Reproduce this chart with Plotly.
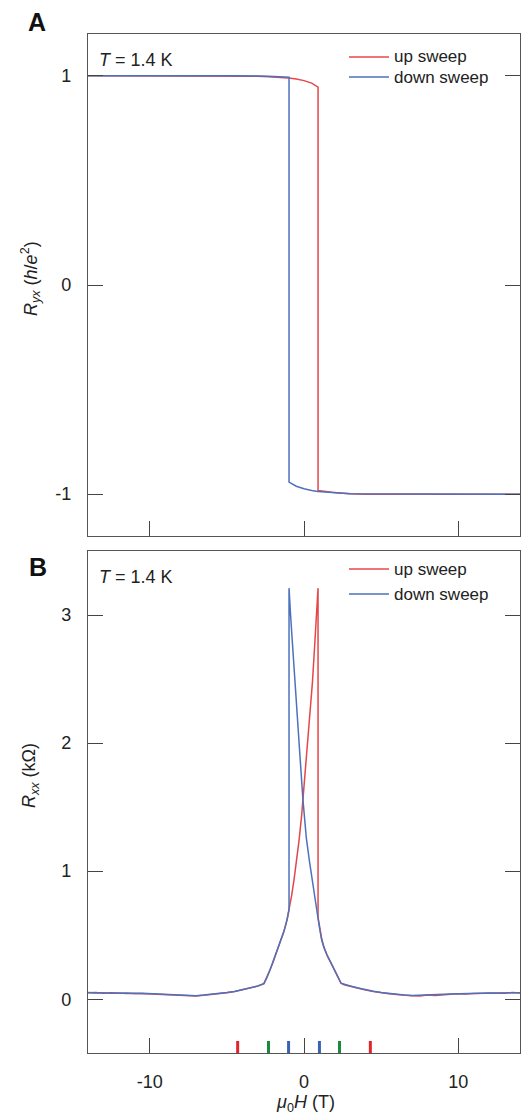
import plotly.graph_objects as go

# ---------------- data ----------------
# Panel A: Hall resistance R_yx (h/e^2)
field_up_A = [-14, -6, -4.5, -3, -2.3, -1.5, -1.0, -0.5, 0, 0.5, 0.91, 0.91, 1.3, 1.8, 2.3, 3.0, 4, 14]
ryx_up = [1.0, 1.0, 0.999, 0.998, 0.996, 0.993, 0.990, 0.985, 0.977, 0.965, 0.946,
          -0.982, -0.987, -0.991, -0.994, -0.998, -1.0, -1.0]
field_down_A = [14, 4, 3, 2.3, 1.5, 0.9, 0.5, 0, -0.5, -0.97, -0.97, -1.5, -2.3, -3, -4.5, -14]
ryx_down = [-1.0, -1.0, -0.998, -0.995, -0.991, -0.987, -0.982, -0.974, -0.962, -0.942,
            0.993, 0.996, 0.998, 0.999, 1.0, 1.0]

# Panel B: longitudinal resistance R_xx (kOhm)
field_up_B = [-14, -13.5, -13, -12.5, -12, -11.5, -11, -10.5, -10, -9.5, -9, -8.5, -8, -7.5, -7,
              -6.5, -6, -5.5, -5, -4.5, -4, -3.5, -3, -2.6, -2.4, -2.2, -2.0, -1.88, -1.7, -1.5,
              -1.3, -1.1, -0.95, -0.8, -0.65, -0.5, -0.32, -0.15, -0.07, 0.1, 0.25, 0.39, 0.55,
              0.7, 0.82, 0.91, 0.91, 1.0, 1.15, 1.3, 1.5, 1.8, 2.0, 2.2, 2.4, 2.6, 3, 3.5, 4,
              4.5, 5, 5.5, 6, 6.5, 7, 7.5, 8, 8.5, 9, 9.5, 10, 10.5, 11, 11.5, 12, 12.5, 13,
              13.5, 14]
rxx_up = [0.052, 0.048, 0.051, 0.047, 0.049, 0.045, 0.047, 0.044, 0.046, 0.041, 0.040, 0.036,
          0.033, 0.027, 0.026, 0.031, 0.036, 0.042, 0.050, 0.060, 0.072, 0.086, 0.102, 0.122,
          0.170, 0.230, 0.290, 0.330, 0.390, 0.460, 0.530, 0.620, 0.710, 0.810, 0.930, 1.060,
          1.240, 1.440, 1.560, 1.760, 1.970, 2.180, 2.480, 2.780, 3.020, 3.210, 0.640, 0.570,
          0.470, 0.405, 0.340, 0.270, 0.220, 0.170, 0.125, 0.113, 0.100, 0.085, 0.072, 0.061,
          0.051, 0.043, 0.037, 0.030, 0.027, 0.026, 0.032, 0.029, 0.036, 0.038, 0.042, 0.040,
          0.045, 0.047, 0.046, 0.050, 0.048, 0.051, 0.050]
field_down_B = [14, 13.5, 13, 12.5, 12, 11.5, 11, 10.5, 10, 9.5, 9, 8.5, 8, 7.5, 7, 6.5, 6,
                5.5, 5, 4.5, 4, 3.5, 3, 2.6, 2.4, 2.2, 2.0, 1.8, 1.5, 1.3, 1.15, 1.0, 0.91,
                0.75, 0.54, 0.35, 0.15, -0.07, -0.25, -0.43, -0.6, -0.75, -0.88, -0.97, -0.97,
                -1.1, -1.3, -1.5, -1.7, -1.88, -2.0, -2.2, -2.4, -2.6, -3, -3.5, -4, -4.5, -5,
                -5.5, -6, -6.5, -7, -7.5, -8, -8.5, -9, -9.5, -10, -10.5, -11, -11.5, -12,
                -12.5, -13, -13.5, -14]
rxx_down = [0.048, 0.052, 0.047, 0.050, 0.048, 0.046, 0.046, 0.042, 0.043, 0.040, 0.038, 0.033,
            0.030, 0.028, 0.029, 0.032, 0.038, 0.044, 0.052, 0.062, 0.073, 0.087, 0.103, 0.115,
            0.125, 0.175, 0.220, 0.270, 0.345, 0.400, 0.460, 0.560, 0.630, 0.760, 0.930, 1.080,
            1.260, 1.560, 1.880, 2.180, 2.500, 2.780, 3.020, 3.210, 0.700, 0.620, 0.530, 0.460,
            0.390, 0.330, 0.290, 0.230, 0.170, 0.122, 0.103, 0.087, 0.073, 0.061, 0.052, 0.044,
            0.037, 0.032, 0.027, 0.030, 0.030, 0.035, 0.038, 0.043, 0.042, 0.046, 0.044, 0.048,
            0.046, 0.050, 0.047, 0.052, 0.050]

# coloured field markers along the bottom of panel B
marker_fields = [-4.3, -2.3, -1.0, 1.0, 2.3, 4.3]
marker_colors = ["#e0242b", "#1c8a3c", "#3a62b4", "#3a62b4", "#1c8a3c", "#e0242b"]

x_ticks = [-10, 0, 10]
x_ticktext = ["-10", "0", "10"]
ticks_A = [-1, 0, 1]
ticktext_A = ["-1", "0", "1"]
ticks_B = [0, 1, 2, 3]

RED = "#e4474a"
BLUE = "#4d72bd"
FONT = "Liberation Sans, Arial, sans-serif"

# ---------------- layout helpers ----------------
W, H = 531, 1115
ML, MR, MT, MB = 88, 11, 34, 62
PW, PH = W - ML - MR, H - MT - MB


def fx(px):
    return (px - ML) / PW


def fy(py):
    return (H - MB - py) / PH


fig = go.Figure()
fig.add_trace(go.Scatter(x=field_up_A, y=ryx_up, mode="lines", line=dict(color=RED, width=1.5),
                         xaxis="x", yaxis="y", showlegend=False))
fig.add_trace(go.Scatter(x=field_down_A, y=ryx_down, mode="lines", line=dict(color=BLUE, width=1.5),
                         xaxis="x", yaxis="y", showlegend=False))
fig.add_trace(go.Scatter(x=field_up_B, y=rxx_up, mode="lines", line=dict(color=RED, width=1.5),
                         xaxis="x2", yaxis="y2", showlegend=False))
fig.add_trace(go.Scatter(x=field_down_B, y=rxx_down, mode="lines", line=dict(color=BLUE, width=1.5),
                         xaxis="x2", yaxis="y2", showlegend=False))

axis_common = dict(showgrid=False, zeroline=False, showline=True, linecolor="#555", linewidth=1.3,
                   ticks="inside", ticklen=15, tickwidth=1.3, tickcolor="#444",
                   tickfont=dict(family=FONT, size=18, color="#222"))

domA = [fy(536), 1.0]
domB = [0.0, fy(551)]

fig.update_layout(
    width=W, height=H, margin=dict(l=ML, r=MR, t=MT, b=MB),
    paper_bgcolor="white", plot_bgcolor="white",
    font=dict(family=FONT, size=18, color="#222"),
    xaxis=dict(axis_common, domain=[0, 1], anchor="y", range=[-14, 14], tickvals=x_ticks,
               ticktext=x_ticktext, showticklabels=False, mirror=True),
    yaxis=dict(axis_common, domain=domA, anchor="x", range=[-1.2, 1.2], tickvals=ticks_A,
               ticktext=ticktext_A, mirror="ticks", ticklabelstandoff=12),
    xaxis2=dict(axis_common, domain=[0, 1], anchor="y2", range=[-14, 14], tickvals=x_ticks,
                ticktext=x_ticktext, mirror=True, ticklabelstandoff=12),
    yaxis2=dict(axis_common, domain=domB, anchor="x2", range=[-0.42, 3.5], tickvals=ticks_B,
                mirror="ticks", ticklabelstandoff=12),
)

# coloured field markers
for xv, c in zip(marker_fields, marker_colors):
    fig.add_shape(type="line", xref="x2", yref="y2 domain", x0=xv, x1=xv, y0=0, y1=0.024,
                  line=dict(color=c, width=3))

ann = []
# panel letters
ann.append(dict(text="<b>A</b>", x=fx(37), y=fy(22)))
ann.append(dict(text="<b>B</b>", x=fx(38), y=fy(567)))
for a in ann:
    a.update(xref="paper", yref="paper", showarrow=False, xanchor="center", yanchor="middle",
             font=dict(family="Liberation Sans Narrow, Liberation Sans, Arial", size=25, color="#111"))

# temperature labels
for py in (60, 577):
    ann.append(dict(text="<i>T</i> = 1.4 K", x=fx(97), y=fy(py), xref="paper", yref="paper",
                    showarrow=False, xanchor="left", yanchor="middle",
                    font=dict(family=FONT, size=18, color="#222")))

# manual legends
legend_rows = [(57, 77), (569, 594)]
for up_y, down_y in legend_rows:
    for py, col, label in ((up_y, RED, "up sweep"), (down_y, BLUE, "down sweep")):
        fig.add_shape(type="line", xref="paper", yref="paper", x0=fx(349), x1=fx(389),
                      y0=fy(py), y1=fy(py), line=dict(color=col, width=1.5))
        ann.append(dict(text=label, x=fx(392), y=fy(py), xref="paper", yref="paper",
                        showarrow=False, xanchor="left", yanchor="middle",
                        font=dict(family=FONT, size=17, color="#222")))

# axis titles
ann.append(dict(text="<i>R</i><sub><i>yx</i></sub> (<i>h</i>/<i>e</i><sup>2</sup>)",
                x=fx(30), y=fy(278), textangle=-90))
ann.append(dict(text="<i>R</i><sub><i>xx</i></sub> (kΩ)", x=fx(30), y=fy(775), textangle=-90))
ann.append(dict(text="<i>μ</i><sub>0</sub><i>H</i> (T)", x=fx(305), y=fy(1103)))
for a in ann[-3:]:
    a.update(xref="paper", yref="paper", showarrow=False, xanchor="center", yanchor="middle",
             font=dict(family=FONT, size=18, color="#222"))

fig.update_layout(annotations=ann)
fig.write_html("out.html")
